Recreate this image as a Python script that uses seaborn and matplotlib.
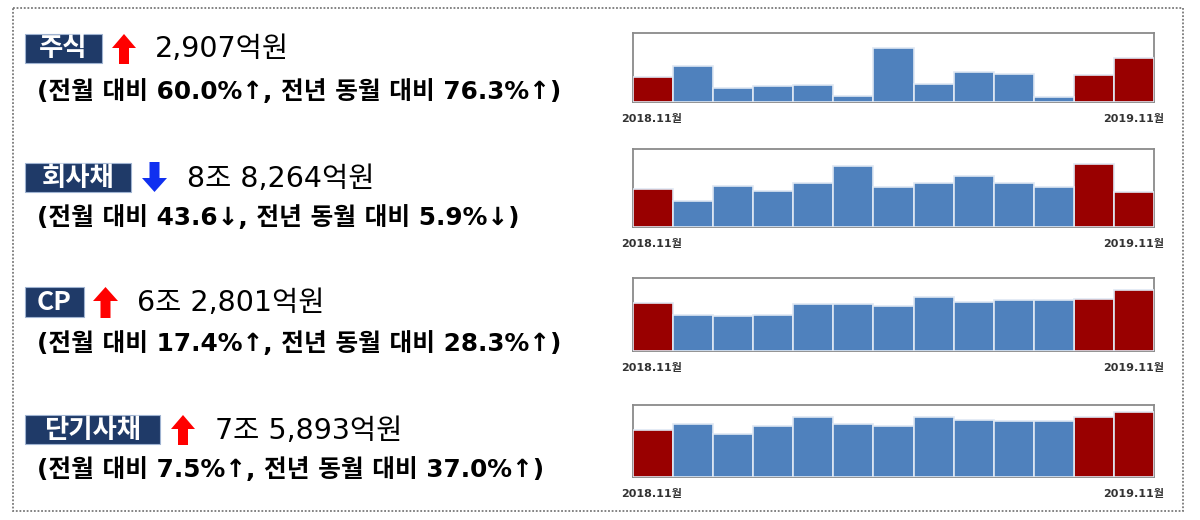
import matplotlib
matplotlib.use("Agg")
import matplotlib.pyplot as plt
import seaborn as sns
import pandas as pd
from matplotlib.patches import Rectangle, FancyArrow

sns.set_theme(style="white")
FAM = ['DejaVu Sans', 'Noto Sans CJK KR']
KFAM = ['Noto Sans CJK KR', 'DejaVu Sans']
plt.rcParams['font.family'] = FAM

# ---------------- data ----------------
months = ['2018.11', '2018.12', '2019.01', '2019.02', '2019.03', '2019.04', '2019.05',
          '2019.06', '2019.07', '2019.08', '2019.09', '2019.10', '2019.11']
highlight = ['hi', 'lo', 'lo', 'lo', 'lo', 'lo', 'lo', 'lo', 'lo', 'lo', 'lo', 'hi', 'hi']

stock = [1649, 2400, 925, 1057, 1123, 374, 3590, 1167, 1982, 1850, 330, 1817, 2907]
corp_bond = [93798, 65000, 103300, 90000, 110000, 151600, 100000, 110000, 128300, 109100,
             100800, 156497, 88264]
cp = [48949, 36600, 36200, 37300, 48700, 48000, 46200, 55900, 50000, 52400, 52400, 53493, 62801]
short_bond = [55396, 62300, 50200, 59900, 70800, 62300, 60300, 70400, 66900, 65400, 65400,
              70598, 75893]

names = ['주식', '회사채', 'CP', '단기사채']
amounts = ['2,907억원', '8조 8,264억원', '6조 2,801억원', '7조 5,893억원']
details = ['(전월 대비 60.0%↑, 전년 동월 대비 76.3%↑)',
           '(전월 대비 43.6↓, 전년 동월 대비 5.9%↓)',
           '(전월 대비 17.4%↑, 전년 동월 대비 28.3%↑)',
           '(전월 대비 7.5%↑, 전년 동월 대비 37.0%↑)']
directions = ['up', 'down', 'up', 'up']
first_label = '2018.11월'
last_label = '2019.11월'

series = [stock, corp_bond, cp, short_bond]
y_tops = [4560, 195000, 74900, 84400]

# ---------------- layout (pixels) ----------------
W, H = 1200, 520
fig = plt.figure(figsize=(12, 5.2), dpi=100)
fig.patch.set_facecolor('white')


def px_axes(x0, y0, x1, y1, **kw):
    return fig.add_axes([x0 / W, 1 - y1 / H, (x1 - x0) / W, (y1 - y0) / H], **kw)


# overlay for text/decorations
ov = px_axes(0, 0, W, H)
ov.set_xlim(0, W)
ov.set_ylim(H, 0)
ov.axis('off')

ov.add_patch(Rectangle((13, 8), 1170, 503, fill=False, edgecolor='#7a7a7a',
                       linestyle=(0, (1, 1)), linewidth=1.3))

NAVY = '#1f3a68'
RED = '#990000'
BLUE = '#4f81bd'

rows = [
    dict(box=(25, 34, 102, 63), arrow=(112, 136), val_x=155, det=(37, 92)),
    dict(box=(25, 163, 131, 192), arrow=(142, 167), val_x=187, det=(37, 218)),
    dict(box=(25, 287, 84, 317), arrow=(93, 118), val_x=137, det=(37, 344)),
    dict(box=(25, 415, 160, 444), arrow=(171, 195), val_x=215, det=(37, 470)),
]
chart_y = [(33, 102), (149, 227), (278, 351), (405, 477)]
CX0, CX1 = 633, 1154

for i, r in enumerate(rows):
    bx0, by0, bx1, by1 = r['box']
    ov.add_patch(Rectangle((bx0, by0), bx1 - bx0, by1 - by0, facecolor=NAVY,
                           edgecolor='#9fb3d1', linewidth=0.8))
    ov.text((bx0 + bx1) / 2, (by0 + by1) / 2 + 0.5, names[i], color='white',
            fontsize=19, fontweight='bold', ha='center', va='center', family=KFAM)
    ax0, ax1 = r['arrow']
    cx = (ax0 + ax1) / 2
    hw = ax1 - ax0
    if directions[i] == 'up':
        ov.add_patch(FancyArrow(cx, by1 + 1, 0, -(by1 - by0) - 1, width=10, head_width=hw,
                                head_length=14, length_includes_head=True,
                                color='#ff0000', linewidth=0))
    else:
        ov.add_patch(FancyArrow(cx, by0 - 1, 0, (by1 - by0) + 1, width=10, head_width=hw,
                                head_length=14, length_includes_head=True,
                                color='#1030f0', linewidth=0))
    ov.text(r['val_x'], (by0 + by1) / 2 + 1, amounts[i], color='black', fontsize=20.5,
            ha='left', va='center', family=FAM)
    ov.text(r['det'][0], r['det'][1], details[i], color='black', fontsize=17.8,
            fontweight='bold', ha='left', va='center', family=FAM)

    # bar chart
    y0, y1 = chart_y[i]
    ax = px_axes(CX0, y0, CX1, y1)
    df = pd.DataFrame({'month': months, 'value': series[i], 'grp': highlight})
    sns.barplot(data=df, x='month', y='value', hue='grp',
                palette={'hi': RED, 'lo': BLUE}, width=1.0, dodge=False, saturation=1,
                legend=False, edgecolor='#dfe8f3', linewidth=1.2, ax=ax)
    ax.set_xlim(-0.5, len(months) - 0.5)
    ax.set_ylim(0, y_tops[i])
    ax.set_xticks([])
    ax.set_yticks([])
    ax.set_xlabel('')
    ax.set_ylabel('')
    for s in ax.spines.values():
        s.set_color('#8a8a8a')
        s.set_linewidth(1.3)
        s.set_zorder(0.5)
    for p in ax.patches:
        p.set_zorder(2)
    ov.text(621, y1 + 17, first_label, fontsize=8, fontweight='bold', color='#333333',
            ha='left', va='center', family=FAM)
    ov.text(1164, y1 + 17, last_label, fontsize=8, fontweight='bold', color='#333333',
            ha='right', va='center', family=FAM)

fig.savefig('out.png', dpi=100, facecolor='white')
